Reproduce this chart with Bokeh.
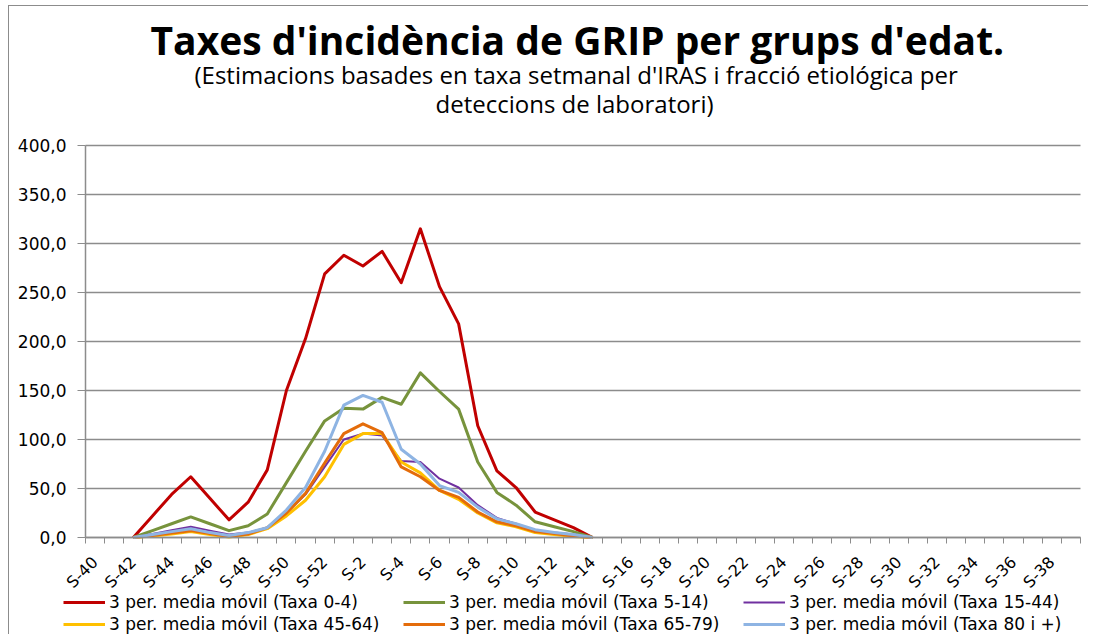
from bokeh.plotting import figure
from bokeh.models import Range1d, FixedTicker, Legend, LegendItem, Title
from bokeh.embed import file_html
from bokeh.resources import INLINE

nan = float("nan")

weeks = ["S-40", "S-41", "S-42", "S-43", "S-44", "S-45", "S-46", "S-47", "S-48", "S-49",
         "S-50", "S-51", "S-52", "S-1", "S-2", "S-3", "S-4", "S-5", "S-6", "S-7", "S-8",
         "S-9", "S-10", "S-11", "S-12", "S-13", "S-14", "S-15", "S-16", "S-17", "S-18",
         "S-19", "S-20", "S-21", "S-22", "S-23", "S-24", "S-25", "S-26", "S-27", "S-28",
         "S-29", "S-30", "S-31", "S-32", "S-33", "S-34", "S-35", "S-36", "S-37", "S-38", "S-39"]

N_TAIL = 25  # weeks S-15 .. S-39 with no data

taxa_0_4 = [nan, nan, 0, 22, 44, 62, 40, 18, 36, 69, 150, 203, 269, 288, 277, 292, 260,
            315, 256, 218, 114, 68, 51, 26, 18, 10, 0] + [nan] * N_TAIL
taxa_5_14 = [nan, nan, 0, 7, 14, 21, 14, 7, 12, 24, 56, 88, 119, 132, 131, 143, 136,
             168, 149, 131, 77, 46, 33, 16, 11, 6, 0] + [nan] * N_TAIL
taxa_15_44 = [nan, nan, 0, 3.5, 7.5, 11, 7, 3, 5, 10, 25, 44, 72, 100, 106, 104, 78,
              77, 60, 51, 33, 20, 14, 7, 5, 3, 0] + [nan] * N_TAIL
taxa_45_64 = [nan, nan, 0, 1.5, 3.5, 6, 3, 0.5, 3, 9, 22, 38, 62, 95, 106, 106, 77,
              66, 48, 39, 25, 15, 11, 5, 3, 1, 0] + [nan] * N_TAIL
taxa_65_79 = [nan, nan, 0, 2, 4.5, 7, 4, 1, 3.5, 10, 25, 45, 76, 106, 116, 107, 72,
              62, 48, 41, 26, 16, 12, 6, 4, 1.5, 0] + [nan] * N_TAIL
taxa_80 = [nan, nan, 0, 3, 6, 9, 5, 2, 5, 10, 28, 51, 88, 135, 145, 138, 90,
           75, 53, 46, 31, 19, 14, 8, 5, 3, 0] + [nan] * N_TAIL

series_labels = ["3 per. media móvil (Taxa 0-4)", "3 per. media móvil (Taxa 5-14)",
                 "3 per. media móvil (Taxa 15-44)", "3 per. media móvil (Taxa 45-64)",
                 "3 per. media móvil (Taxa 65-79)", "3 per. media móvil (Taxa 80 i +)"]
series_values = [taxa_0_4, taxa_5_14, taxa_15_44, taxa_45_64, taxa_65_79, taxa_80]
series_colors = ["#C00000", "#77933C", "#7030A0", "#FFC000", "#E46C0A", "#8EB4E3"]
series_widths = [3, 3, 2, 3, 3, 3]

y_ticks = [0, 50, 100, 150, 200, 250, 300, 350, 400]
y_tick_labels = ["0,0", "50,0", "100,0", "150,0", "200,0", "250,0", "300,0", "350,0", "400,0"]

title_text = "Taxes d'incidència de GRIP per grups d'edat."
subtitle_1 = "(Estimacions basades en taxa setmanal d'IRAS i fracció etiológica per"
subtitle_2 = "deteccions de laboratori)"

TITLE_FONT = "Open Sans"
FONT = "DejaVu Sans"
GRID = "#8C8C8C"

# ---- layout (canvas pixels) ----
W, H = 1080, 629
FRAME_TOP = 125             # frame top below canvas top (title block above it)
AX_LEFT, AX_RIGHT = 76, 1071
Y_TOP, Y_ZERO = 139, 531    # pixel rows of the 400 and 0 gridlines
n = len(weeks)
px_x = (AX_RIGHT - AX_LEFT) / n
px_y = (Y_ZERO - Y_TOP) / 400.0
x_range = Range1d(-AX_LEFT / px_x, n + (W - AX_RIGHT) / px_x)
y_range = Range1d(-(H - Y_ZERO) / px_y, 400 + (Y_TOP - FRAME_TOP) / px_y)

p = figure(width=W, height=H, output_backend="svg", toolbar_location=None,
           x_range=x_range, y_range=y_range,
           min_border_left=0, min_border_right=0, min_border_top=FRAME_TOP, min_border_bottom=0)
p.title.visible = False
p.outline_line_color = None
p.background_fill_color = "white"
p.border_fill_color = "white"
p.styles = {"margin-left": "8px", "margin-top": "5px",
            "border-left": "1px solid #8C8C8C", "border-top": "1px solid #8C8C8C"}
p.xgrid.visible = False
p.ygrid.visible = False

# horizontal gridlines limited to the plot area
p.segment(x0=[0] * len(y_ticks), x1=[n] * len(y_ticks), y0=y_ticks, y1=y_ticks,
          line_color=GRID, line_width=1.3)

xs = [i + 0.5 for i in range(n)]
items = []
for lab, vals, col, w in zip(series_labels, series_values, series_colors, series_widths):
    r = p.line(xs, vals, line_color=col, line_width=w, line_join="round")
    items.append(LegendItem(label=lab, renderers=[r]))

# x axis: labels every second week at centres, tick marks between categories
p.xaxis.fixed_location = 0
p.xaxis.bounds = (0, n)
p.xaxis.ticker = FixedTicker(ticks=[xs[i] for i in range(0, n, 2)],
                             minor_ticks=list(range(0, n + 1)))
p.xaxis.major_label_overrides = {xs[i]: weeks[i] for i in range(0, n, 2)}
p.xaxis.major_label_orientation = 0.785398
p.xaxis.major_tick_out = 0
p.xaxis.major_tick_in = 0
p.xaxis.minor_tick_out = 6
p.xaxis.minor_tick_in = 0
p.xaxis.minor_tick_line_color = GRID
p.xaxis.axis_line_color = GRID
p.xaxis.axis_line_width = 1.5
p.xaxis.major_label_text_font = FONT
p.xaxis.major_label_text_font_size = "16px"
p.xaxis.major_label_text_color = "black"
p.xaxis.major_label_standoff = 16

p.yaxis.fixed_location = 0
p.yaxis.bounds = (0, 400)
p.yaxis.ticker = FixedTicker(ticks=y_ticks)
p.yaxis.major_label_overrides = {t: l for t, l in zip(y_ticks, y_tick_labels)}
p.yaxis.major_tick_out = 8
p.yaxis.major_tick_in = 0
p.yaxis.minor_tick_out = 0
p.yaxis.minor_tick_in = 0
p.yaxis.major_tick_line_color = GRID
p.yaxis.axis_line_color = GRID
p.yaxis.axis_line_width = 1.5
p.yaxis.major_label_text_font = FONT
p.yaxis.major_label_text_font_size = "17px"
p.yaxis.major_label_text_color = "black"
p.yaxis.major_label_standoff = 11

legend = Legend(items=items, orientation="horizontal", ncols=3, location=(54, 1),
                glyph_width=42, glyph_height=20, label_height=20, label_width=292,
                label_standoff=4, spacing=2,
                label_text_font=FONT, label_text_font_size="17px", label_text_color="black",
                padding=0, margin=0, border_line_color=None, background_fill_alpha=0)
p.add_layout(legend, "center")

# title block (stacked from the frame upwards)
p.add_layout(Title(text=subtitle_2, align="left", offset=426, vertical_align="top",
                   text_font=TITLE_FONT, text_font_size="24px", text_font_style="normal",
                   text_color="black", standoff=20), "above")
p.add_layout(Title(text=subtitle_1, align="left", offset=185, vertical_align="top",
                   text_font=TITLE_FONT, text_font_size="24px", text_font_style="normal",
                   text_color="black", standoff=-32), "above")
p.add_layout(Title(text=title_text, align="left", offset=141, vertical_align="top",
                   text_font=TITLE_FONT, text_font_size="39px", text_font_style="bold",
                   text_color="black", standoff=11), "above")

open("out.html", "w").write(file_html(p, INLINE))
